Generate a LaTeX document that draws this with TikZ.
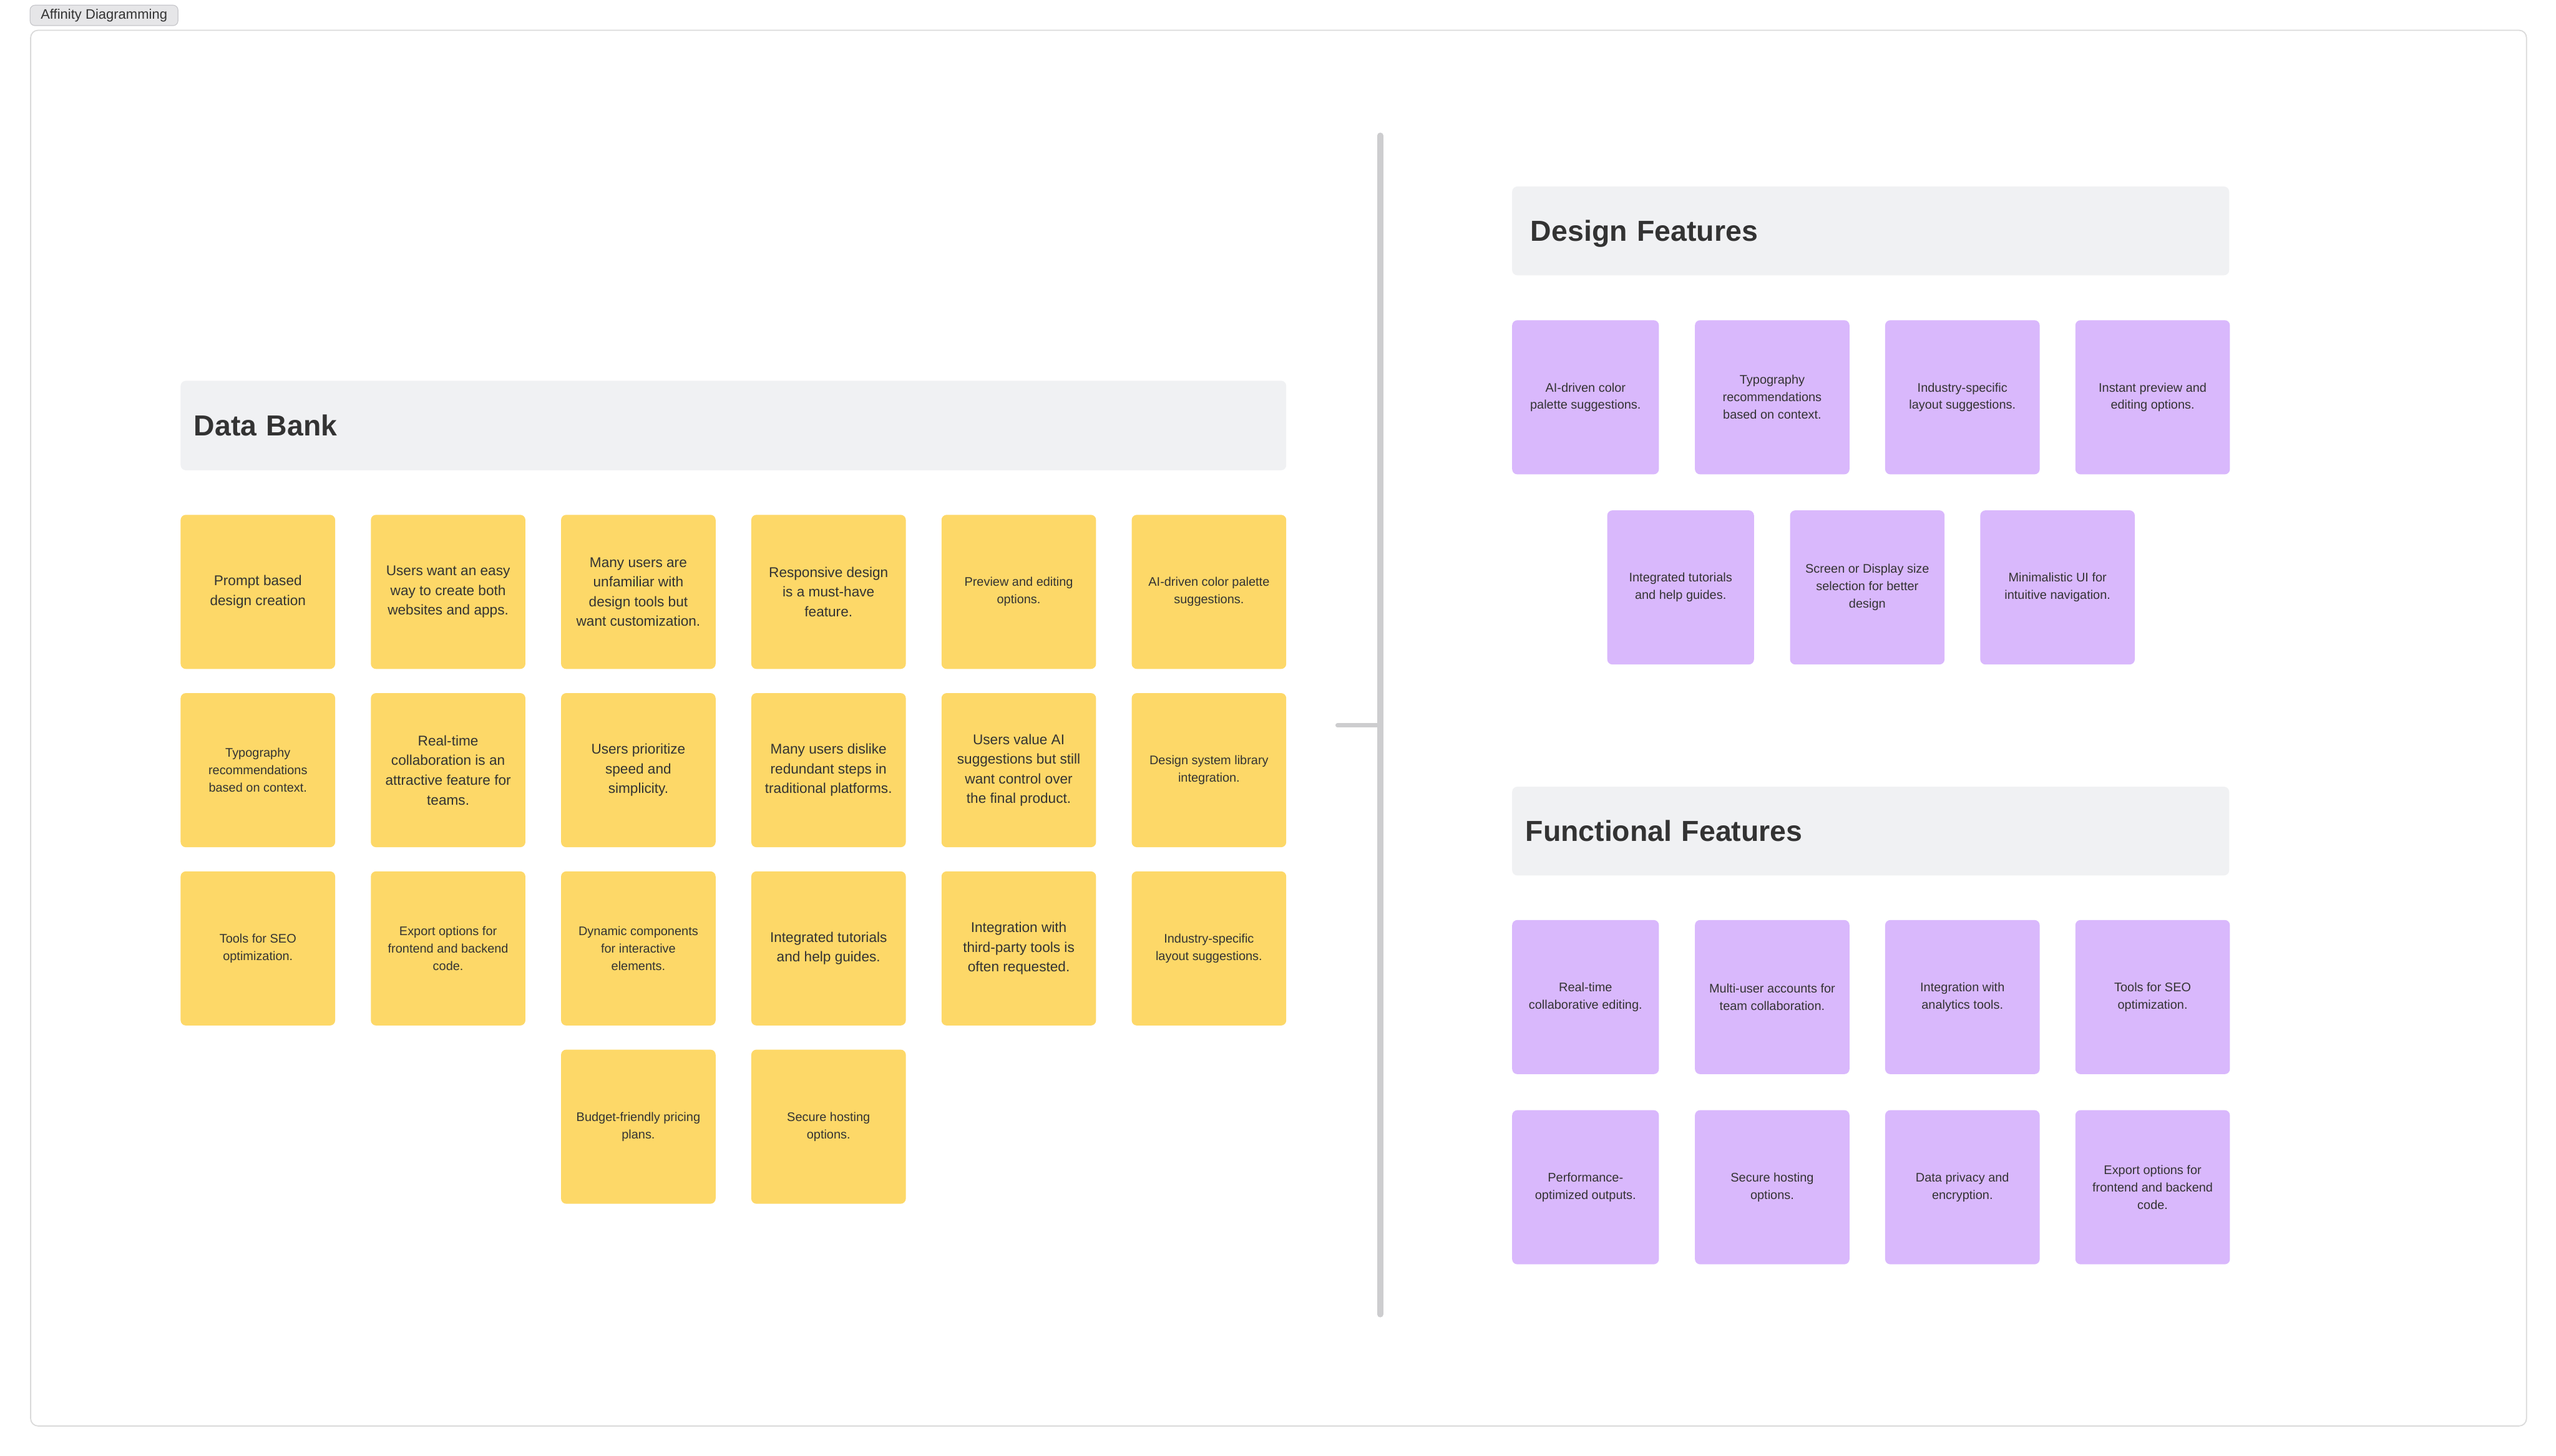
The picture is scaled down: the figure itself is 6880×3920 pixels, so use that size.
\documentclass[tikz,border=0pt]{standalone}
\usepackage{fontspec}
\setmainfont{Liberation Sans}
\definecolor{stickyY}{HTML}{FDD868}
\definecolor{stickyP}{HTML}{D9B8FC}
\definecolor{hdrgray}{HTML}{F0F1F3}
\definecolor{inkc}{HTML}{333333}
\definecolor{framec}{HTML}{DADADA}
\definecolor{divc}{HTML}{CDCDCF}
\definecolor{tagfill}{HTML}{E6E6E8}
\definecolor{tagline}{HTML}{C8C8CC}
\tikzset{
  note/.style={rounded corners=14pt, minimum height=415pt, minimum width=416pt,
    anchor=north west, align=center, text=inkc, inner sep=0pt},
  ynote/.style={note, fill=stickyY},
  pnote/.style={note, fill=stickyP, font=\fontsize{33.5}{47}\selectfont},
  narrow/.style={minimum width=395pt},
  bigtext/.style={font=\fontsize{38}{53}\selectfont},
  smalltext/.style={font=\fontsize{33.5}{47}\selectfont},
  hdr/.style={fill=hdrgray, rounded corners=14pt, anchor=north west, align=left,
    text=inkc, font=\bfseries\fontsize{78}{90}\selectfont,
    text height=56pt, text depth=0pt, inner ysep=0pt},
  boardframe/.style={draw=framec, line width=3pt, rounded corners=20pt, anchor=north west, inner sep=0pt},
  tagbox/.style={fill=tagfill, draw=tagline, line width=2pt, rounded corners=13pt,
    anchor=north west, inner sep=0pt, text=inkc, font=\fontsize{37}{44}\selectfont},
  divider/.style={draw=divc, line width=16pt, line cap=round},
  stub/.style={draw=divc, line width=11pt, line cap=round}
}
\begin{document}
\begin{tikzpicture}[x=1pt,y=-1pt]
\fill[white] (0,0) rectangle (6880,3920);
\useasboundingbox (0,0) rectangle (6880,3920);

% board frame and tag
\node[boardframe, minimum width=6718pt, minimum height=3758pt] (board) at (81,80) {};
\node[tagbox, minimum width=398pt, minimum height=55pt] (tag) at (80,13) {Affinity Diagramming};

% divider
\coordinate (divtop) at (3715,365);
\coordinate (divbot) at (3715,3539);
\coordinate (stubend) at (3600,1953);
\draw[divider] (divtop) -- (divbot);
\draw[stub] (stubend) -- (stubend -| divtop);

% ---------------- Data Bank ----------------
\node[hdr, text width=2904pt, inner xsep=36pt, minimum height=241pt] (dbh) at (486,1025) {Data Bank};

% row 1
\node[ynote, bigtext] (d11) at (486,1386) {Prompt based\\design creation};
\node[ynote, bigtext] (d12) at (998,1386) {Users want an easy\\way to create both\\websites and apps.};
\node[ynote, bigtext] (d13) at (1510,1386) {Many users are\\unfamiliar with\\design tools but\\want customization.};
\node[ynote, bigtext] (d14) at (2022,1386) {Responsive design\\is a must-have\\feature.};
\node[ynote, smalltext] (d15) at (2534,1386) {Preview and editing\\options.};
\node[ynote, smalltext] (d16) at (3046,1386) {AI-driven color palette\\suggestions.};
% row 2
\node[ynote, smalltext] (d21) at (486,1866) {Typography\\recommendations\\based on context.};
\node[ynote, bigtext] (d22) at (998,1866) {Real-time\\collaboration is an\\attractive feature for\\teams.};
\node[ynote, bigtext] (d23) at (1510,1866) {Users prioritize\\speed and\\simplicity.};
\node[ynote, bigtext] (d24) at (2022,1866) {Many users dislike\\redundant steps in\\traditional platforms.};
\node[ynote, bigtext] (d25) at (2534,1866) {Users value AI\\suggestions but still\\want control over\\the final product.};
\node[ynote, smalltext] (d26) at (3046,1866) {Design system library\\integration.};
% row 3
\node[ynote, smalltext] (d31) at (486,2346) {Tools for SEO\\optimization.};
\node[ynote, smalltext] (d32) at (998,2346) {Export options for\\frontend and backend\\code.};
\node[ynote, smalltext] (d33) at (1510,2346) {Dynamic components\\for interactive\\elements.};
\node[ynote, bigtext] (d34) at (2022,2346) {Integrated tutorials\\and help guides.};
\node[ynote, bigtext] (d35) at (2534,2346) {Integration with\\third-party tools is\\often requested.};
\node[ynote, smalltext] (d36) at (3046,2346) {Industry-specific\\layout suggestions.};
% row 4
\node[ynote, smalltext] (d43) at (1510,2826) {Budget-friendly pricing\\plans.};
\node[ynote, smalltext] (d44) at (2022,2826) {Secure hosting\\options.};

% ---------------- Design Features ----------------
\node[hdr, text width=1830pt, inner xsep=50pt, minimum height=239pt] (dfh) at (4070,502) {Design Features};
\node[pnote, narrow] (p11) at (4070,862) {AI-driven color\\palette suggestions.};
\node[pnote] (p12) at (4562,862) {Typography\\recommendations\\based on context.};
\node[pnote] (p13) at (5074,862) {Industry-specific\\layout suggestions.};
\node[pnote] (p14) at (5586,862) {Instant preview and\\editing options.};
\node[pnote, narrow] (p21) at (4326,1374) {Integrated tutorials\\and help guides.};
\node[pnote] (p22) at (4818,1374) {Screen or Display size\\selection for better\\design};
\node[pnote] (p23) at (5330,1374) {Minimalistic UI for\\intuitive navigation.};

% ---------------- Functional Features ----------------
\node[hdr, text width=1858pt, inner xsep=36pt, minimum height=239pt] (ffh) at (4070,2118) {Functional Features};
\node[pnote, narrow] (f11) at (4070,2477) {Real-time\\collaborative editing.};
\node[pnote] (f12) at (4562,2477) {Multi-user accounts for\\team collaboration.};
\node[pnote] (f13) at (5074,2477) {Integration with\\analytics tools.};
\node[pnote] (f14) at (5586,2477) {Tools for SEO\\optimization.};
\node[pnote, narrow] (f21) at (4070,2989) {Performance-\\optimized outputs.};
\node[pnote] (f22) at (4562,2989) {Secure hosting\\options.};
\node[pnote] (f23) at (5074,2989) {Data privacy and\\encryption.};
\node[pnote] (f24) at (5586,2989) {Export options for\\frontend and backend\\code.};
\end{tikzpicture}
\end{document}
